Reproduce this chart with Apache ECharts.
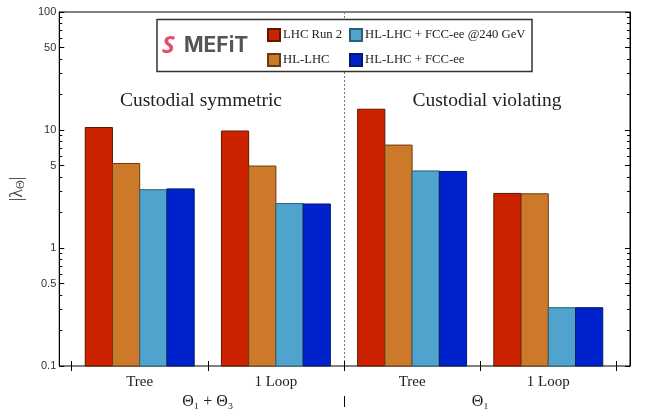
<!DOCTYPE html>
<html>
<head>
<meta charset="utf-8">
<script src="https://cdn.jsdelivr.net/npm/echarts@6/dist/echarts.min.js"></script>
<style>
html,body{margin:0;padding:0;background:#fff;}
#chart{width:646px;height:411px;}
</style>
</head>
<body>
<div id="chart"></div>
<script>
// ---- data ----
const categories = ['Tree', '1 Loop', 'Tree', '1 Loop'];
const groupLabels = ['Θ₁ + Θ₃', 'Θ₁'];
const seriesNames = ['LHC Run 2', 'HL-LHC', 'HL-LHC + FCC-ee @240 GeV', 'HL-LHC + FCC-ee'];
const lhcRun2   = [10.5, 9.8, 15.0, 2.9];
const hlLhc     = [5.2, 4.95, 7.45, 2.88];
const fcc240    = [3.12, 2.38, 4.5, 0.312];
const fccFull   = [3.17, 2.36, 4.45, 0.312];
const majorTicks = [0.1, 0.5, 1, 5, 10, 50, 100];
const minorTicks = [0.2, 0.3, 0.4, 0.6, 0.7, 0.8, 0.9, 2, 3, 4, 6, 7, 8, 9, 20, 30, 40, 60, 70, 80, 90];
const panelTitles = ['Custodial symmetric', 'Custodial violating'];

const colors = ['#cc2200', '#cc7a29', '#50a3cc', '#0022cc'];
const borders = ['#5c1800', '#6b3a12', '#2e5f78', '#06186a'];
const values = [lhcRun2, hlLhc, fcc240, fccFull];
const AXIS_MIN = 0.1, AXIS_MAX = 100;

const serif = '"Liberation Serif", "DejaVu Serif", serif';
const sans = '"Liberation Sans", Arial, sans-serif';

const chart = echarts.init(document.getElementById('chart'), null, {renderer: 'canvas'});

const logAxisBase = {
  type: 'log', logBase: 10, min: AXIS_MIN, max: AXIS_MAX, splitLine: {show: false}
};

function makeRenderer(k) {
  return function (params, api) {
    const ci = api.value(0);
    const v = api.value(1);
    const top = api.coord([ci, v]);
    const bottom = api.coord([ci, AXIS_MIN]);
    const band = api.coord([1, AXIS_MIN])[0] - api.coord([0, AXIS_MIN])[0];
    const bw = band * 0.8 / seriesNames.length;
    const x0 = top[0] - band * 0.4 + k * bw;
    return {
      type: 'rect',
      shape: {x: x0, y: top[1], width: bw, height: bottom[1] - top[1]},
      style: {fill: colors[k], stroke: borders[k], lineWidth: 1}
    };
  };
}

const option = {
  animation: false,
  backgroundColor: '#fff',
  grid: [
    {left: 58, right: 16, top: 12, bottom: 45, show: true, borderColor: '#000', borderWidth: 1, backgroundColor: 'transparent'},
    {left: 71.6, right: 29.6, top: 12, bottom: 45}
  ],
  xAxis: [
    {gridIndex: 0, type: 'value', min: -0.6, max: 3.6, show: false},
    {gridIndex: 1, type: 'category', data: categories, position: 'bottom',
     axisLine: {show: false, onZero: false}, axisTick: {show: true, inside: true, length: 5, lineStyle: {color: '#000'}},
     axisLabel: {show: false}},
    {gridIndex: 1, type: 'category', data: categories, position: 'bottom',
     axisLine: {show: false, onZero: false}, axisTick: {show: true, inside: false, length: 5, lineStyle: {color: '#000'}},
     axisLabel: {show: true, margin: 9, fontFamily: serif, fontSize: 15, color: '#222'}},
    {gridIndex: 1, type: 'category', data: groupLabels, position: 'bottom', offset: 19,
     axisLine: {show: false, onZero: false}, axisTick: {show: false},
     axisLabel: {show: true, margin: 9, fontFamily: serif, fontSize: 16, color: '#222'}}
  ],
  yAxis: [
    Object.assign({}, logAxisBase, {gridIndex: 0, position: 'left',
      axisLine: {show: true, onZero: false, lineStyle: {color: '#000'}},
      axisTick: {show: true, inside: true, length: 5, customValues: majorTicks, lineStyle: {color: '#000'}},
      axisLabel: {show: true, customValues: majorTicks, margin: 3, fontFamily: sans, fontSize: 11, color: '#333'},
      name: '|λ{s|Θ}|', nameLocation: 'middle', nameGap: 26, nameRotate: 90,
      nameTextStyle: {fontFamily: serif, fontSize: 18, color: '#444',
        rich: {s: {fontFamily: serif, fontSize: 12, color: '#444', padding: [8, 0, 0, 0]}}}
    }),
    Object.assign({}, logAxisBase, {gridIndex: 0, position: 'left',
      axisLine: {show: false, onZero: false},
      axisTick: {show: true, inside: true, length: 3, customValues: minorTicks, lineStyle: {color: '#000'}},
      axisLabel: {show: false}
    }),
    Object.assign({}, logAxisBase, {gridIndex: 0, position: 'right',
      axisLine: {show: true, onZero: false, lineStyle: {color: '#000'}},
      axisTick: {show: true, inside: true, length: 5, customValues: majorTicks, lineStyle: {color: '#000'}},
      axisLabel: {show: false}
    }),
    Object.assign({}, logAxisBase, {gridIndex: 0, position: 'right',
      axisLine: {show: false, onZero: false},
      axisTick: {show: true, inside: true, length: 3, customValues: minorTicks, lineStyle: {color: '#000'}},
      axisLabel: {show: false}
    }),
    Object.assign({}, logAxisBase, {gridIndex: 1, show: false})
  ],
  legend: [
    {orient: 'vertical', left: 267, top: 28, padding: 0, itemWidth: 12, itemHeight: 12, itemGap: 11, icon: 'rect',
     data: [seriesNames[0], seriesNames[1]], z: 10,
     textStyle: {fontFamily: serif, fontSize: 12.7, color: '#222', padding: [0, 0, 0, -2]}},
    {orient: 'vertical', left: 349, top: 28, padding: 0, itemWidth: 12, itemHeight: 12, itemGap: 11, icon: 'rect',
     data: [seriesNames[2], seriesNames[3]], z: 10,
     textStyle: {fontFamily: serif, fontSize: 12.7, color: '#222', padding: [0, 0, 0, -2]}}
  ],
  series: seriesNames.map((name, k) => ({
    name: name, type: 'custom', xAxisIndex: 1, yAxisIndex: 4,
    data: values[k].map((v, i) => [i, v]),
    encode: {x: 0, y: 1},
    itemStyle: {color: colors[k], borderColor: borders[k], borderWidth: 1},
    renderItem: makeRenderer(k)
  }))
};

chart.setOption(option);

// divider position computed from the category axis
const c1 = chart.convertToPixel({xAxisIndex: 1}, 1);
const c2 = chart.convertToPixel({xAxisIndex: 1}, 2);
const xDiv = Math.round((c1 + c2) / 2) + 0.5;
const yTop = chart.convertToPixel({yAxisIndex: 0}, AXIS_MAX);
const yBot = chart.convertToPixel({yAxisIndex: 0}, AXIS_MIN);

chart.setOption({
  graphic: [
    {type: 'line', z: 1, silent: true,
     shape: {x1: xDiv, y1: yTop, x2: xDiv, y2: yBot},
     style: {stroke: '#777', lineWidth: 1, lineDash: [2, 2]}},
    {type: 'line', z: 1, silent: true,
     shape: {x1: xDiv, y1: yBot - 5, x2: xDiv, y2: yBot + 5},
     style: {stroke: '#000', lineWidth: 1}},
    {type: 'line', z: 1, silent: true,
     shape: {x1: xDiv, y1: yBot + 30, x2: xDiv, y2: yBot + 41},
     style: {stroke: '#000', lineWidth: 1}},
    {type: 'rect', z: 5, silent: true,
     shape: {x: 157, y: 19.5, width: 375, height: 52},
     style: {fill: '#fff', stroke: '#333', lineWidth: 1.5}},
    {type: 'text', z: 6, x: 162, y: 46, silent: true,
     style: {text: 'S', fontFamily: '"Open Sans", sans-serif', fontWeight: 'bold', fontStyle: 'italic', fontSize: 24, fill: '#e4506a', textVerticalAlign: 'middle'}},
    {type: 'text', z: 6, x: 184, y: 46, silent: true,
     style: {text: 'MEFiT', fontFamily: 'Inter, "Open Sans", sans-serif', fontWeight: 'bold', fontSize: 21, fill: '#555', textVerticalAlign: 'middle'}},
    {type: 'text', z: 6, x: 201, y: 101, silent: true,
     style: {text: panelTitles[0], fontFamily: serif, fontSize: 19.5, fill: '#222', textAlign: 'center', textVerticalAlign: 'middle'}},
    {type: 'text', z: 6, x: 487, y: 101, silent: true,
     style: {text: panelTitles[1], fontFamily: serif, fontSize: 19.5, fill: '#222', textAlign: 'center', textVerticalAlign: 'middle'}}
  ]
});
</script>
</body>
</html>
